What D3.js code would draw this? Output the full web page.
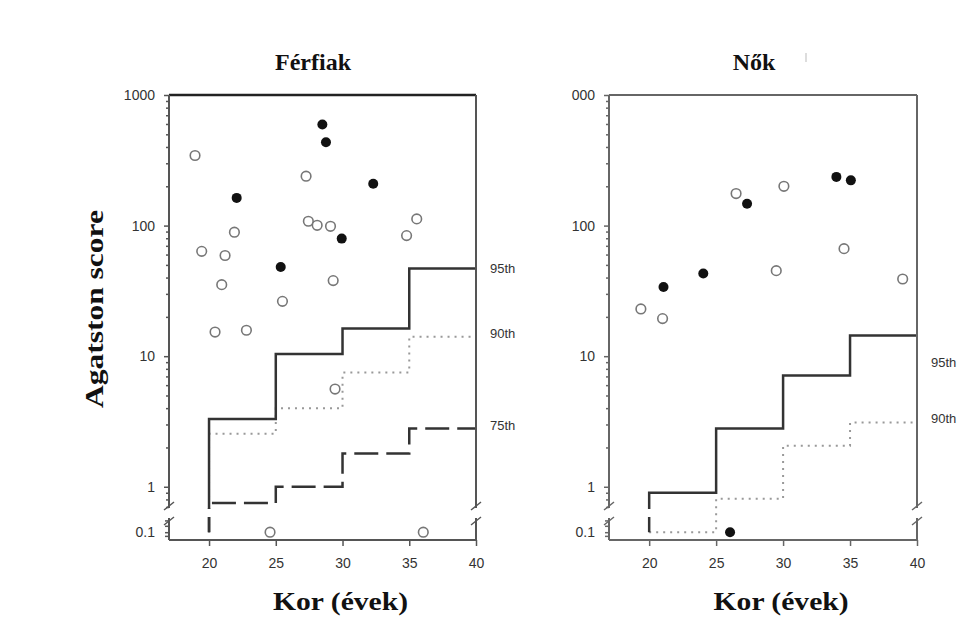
<!DOCTYPE html>
<html>
<head>
<meta charset="utf-8">
<script src="https://cdn.jsdelivr.net/npm/d3@7"></script>
<style>
  body { margin: 0; background: #fff; }
  svg { display: block; }
  .tick text { font-family: Arial, "Liberation Sans", sans-serif; font-size: 14px; fill: #333; }
</style>
</head>
<body>
<svg id="chart" width="969" height="625"></svg>
<script>
// Age groups / axis ticks
const ageTicks = [20, 25, 30, 35, 40];
const stepAges = [20, 25, 30, 35, 40];

// Férfiak (men) - open circles
const menOpenAge = [18.95, 19.45, 20.95, 20.45, 21.2, 21.9, 22.8, 25.5, 27.27, 27.44, 28.1, 29.1, 29.3, 29.44, 34.8, 35.56, 24.57, 36.05];
const menOpenScore = [344, 63.5, 35.3, 15.3, 59, 89, 15.8, 26.3, 239, 108, 100.5, 98.8, 37.9, 5.6, 83.8, 112.5, 0.1, 0.1];
// Férfiak - filled circles
const menFilledAge = [28.49, 28.76, 22.07, 32.3, 29.94, 25.37];
const menFilledScore = [594, 435, 163, 209, 79.5, 48.2];

// Nők (women) - open circles
const womenOpenAge = [19.38, 21.0, 26.49, 30.06, 29.49, 34.55, 38.93];
const womenOpenScore = [23, 19.4, 176, 200, 45.2, 66.6, 39];
// Nők - filled circles
const womenFilledAge = [21.07, 24.04, 27.31, 33.98, 35.06, 26.04];
const womenFilledScore = [33.9, 42.9, 147, 236, 222, 0.1];

// Percentile step lines (value per 5-year age group)
const menP95 = [3.3, 10.4, 16.3, 47];
const menP90 = [2.55, 4.0, 7.5, 14.1];
const menP75 = [0.75, 1.0, 1.8, 2.8];
const womenP95 = [0.9, 2.8, 7.1, 14.4];
const womenP90 = [0.1, 0.81, 2.06, 3.1];

// Percentile label texts and the score they sit beside
const menLabels = ["95th", "90th", "75th"];
const menLabelAt = [47, 15, 2.95];
const womenLabels = ["95th", "90th"];
const womenLabelAt = [8.9, 3.35];

// Y tick labels (decades)
const yDecades = [1, 10, 100, 1000];
const menYLabels = ["1", "10", "100", "1000"];
const womenYLabels = ["1", "10", "100", "000"];

const svg = d3.select("#chart");

const plotTop = 95, plotBottom = 540;
const breakTop = 508, breakBot = 518;

const panels = [
  {
    title: "Férfiak", titleX: 313, x0: 169, x1: 476,
    open: [menOpenAge, menOpenScore], filled: [menFilledAge, menFilledScore],
    lines: [
      { v: menP90, kind: "dot" },
      { v: menP75, kind: "dash" },
      { v: menP95, kind: "solid" }
    ],
    labels: menLabels, labelAt: menLabelAt, yLabels: menYLabels,
    frame: "#222", frameW: 2.5, axisCol: "#555"
  },
  {
    title: "Nők", titleX: 754, x0: 609, x1: 917,
    open: [womenOpenAge, womenOpenScore], filled: [womenFilledAge, womenFilledScore],
    lines: [
      { v: womenP90, kind: "dot" },
      { v: womenP95, kind: "solid" }
    ],
    labels: womenLabels, labelAt: womenLabelAt, yLabels: womenYLabels,
    frame: "#666", frameW: 2, axisCol: "#666"
  }
];

panels.forEach((p) => {
  const g = svg.append("g");

  // x scale (age)
  const x = d3.scaleLinear().domain([17, 40]).range([p.x0, p.x1]);

  // upper log segment and lower (0.1) segment of the broken axis
  const yUp = d3.scaleLog().domain([0.7, 1000]).range([507, plotTop]);
  const yLow = d3.scaleLog().domain([0.08, 0.15]).range([plotBottom, breakBot]);
  const y = (v) => (v >= 0.5 ? yUp(v) : yLow(v));

  // step lines
  const stepPath = (vals) => {
    const pts = [[stepAges[0], 0.1]];
    vals.forEach((v, i) => {
      pts.push([stepAges[i], v]);
      pts.push([stepAges[i + 1], v]);
    });
    return d3.line().x((d) => x(d[0])).y((d) => y(d[1]))(pts);
  };

  p.lines.forEach((l) => {
    const path = g.append("path")
      .attr("d", stepPath(l.v))
      .attr("fill", "none");
    if (l.kind === "solid") {
      path.attr("stroke", "#333").attr("stroke-width", 2.5);
    } else if (l.kind === "dot") {
      path.attr("stroke", "#999").attr("stroke-width", 2).attr("stroke-dasharray", "2,5");
    } else {
      path.attr("stroke", "#333").attr("stroke-width", 2.5).attr("stroke-dasharray", "24,8");
    }
  });

  // white gap of the axis break
  g.append("rect")
    .attr("x", p.x0 - 8).attr("y", breakTop + 1)
    .attr("width", 22).attr("height", breakBot - breakTop - 2)
    .attr("fill", "#fff");
  g.append("rect")
    .attr("x", x(20) - 4).attr("y", breakTop + 1)
    .attr("width", 8).attr("height", breakBot - breakTop - 2)
    .attr("fill", "#fff");
  g.append("rect")
    .attr("x", p.x1 - 8).attr("y", breakTop + 1)
    .attr("width", 16).attr("height", breakBot - breakTop - 2)
    .attr("fill", "#fff");

  // frame: top and right
  g.append("line")
    .attr("x1", p.x0).attr("x2", p.x1).attr("y1", plotTop).attr("y2", plotTop)
    .attr("stroke", p.frame).attr("stroke-width", p.frameW);
  g.append("line")
    .attr("x1", p.x1).attr("x2", p.x1).attr("y1", plotTop).attr("y2", breakTop)
    .attr("stroke", p.axisCol).attr("stroke-width", 2);
  g.append("line")
    .attr("x1", p.x1).attr("x2", p.x1).attr("y1", breakBot).attr("y2", plotBottom)
    .attr("stroke", p.axisCol).attr("stroke-width", 2);

  // left axis (upper)
  const fmt = (d) => {
    const i = yDecades.indexOf(d);
    return i >= 0 ? p.yLabels[i] : "";
  };
  const upAxis = g.append("g")
    .attr("transform", `translate(${p.x0},0)`)
    .call(d3.axisLeft(yUp).ticks(20).tickFormat(fmt).tickSize(4).tickPadding(10));
  upAxis.select(".domain").remove();
  upAxis.selectAll(".tick line")
    .attr("stroke", p.axisCol).attr("stroke-width", 1.5)
    .attr("x2", (d) => (yDecades.includes(d) ? -5 : -3));

  // left axis (lower segment)
  const lowAxis = g.append("g")
    .attr("transform", `translate(${p.x0},0)`)
    .call(d3.axisLeft(yLow).tickValues([0.09, 0.1, 0.12, 0.14]).tickFormat((d) => (d === 0.1 ? "0.1" : "")).tickSize(4).tickPadding(10));
  lowAxis.select(".domain").remove();
  lowAxis.selectAll(".tick line").attr("stroke", p.axisCol).attr("stroke-width", 1.5);

  g.append("line")
    .attr("x1", p.x0).attr("x2", p.x0).attr("y1", plotTop).attr("y2", breakTop)
    .attr("stroke", p.axisCol).attr("stroke-width", 2);
  g.append("line")
    .attr("x1", p.x0).attr("x2", p.x0).attr("y1", breakBot).attr("y2", plotBottom)
    .attr("stroke", p.axisCol).attr("stroke-width", 2);

  // break marks
  [p.x0, p.x1].forEach((bx) => {
    [breakTop - 2, breakBot + 3].forEach((by) => {
      g.append("line")
        .attr("x1", bx - 5).attr("y1", by + 4)
        .attr("x2", bx + 5).attr("y2", by - 4)
        .attr("stroke", p.axisCol).attr("stroke-width", 1.5);
    });
  });

  // bottom axis
  const xAxis = g.append("g")
    .attr("transform", `translate(0,${plotBottom})`)
    .call(d3.axisBottom(x).tickValues(ageTicks).tickSize(6).tickPadding(12));
  xAxis.select(".domain").remove();
  xAxis.selectAll(".tick line").attr("stroke", p.axisCol).attr("stroke-width", 1.5);
  g.append("line")
    .attr("x1", p.x0).attr("x2", p.x1).attr("y1", plotBottom).attr("y2", plotBottom)
    .attr("stroke", p.axisCol).attr("stroke-width", 2);

  // points
  const open = p.open[0].map((a, i) => ({ a, s: p.open[1][i] }));
  const filled = p.filled[0].map((a, i) => ({ a, s: p.filled[1][i] }));
  g.selectAll(".open").data(open).enter().append("circle")
    .attr("class", "open")
    .attr("cx", (d) => x(d.a)).attr("cy", (d) => y(d.s)).attr("r", 4.8)
    .attr("fill", "#fff").attr("stroke", "#777").attr("stroke-width", 1.6);
  g.selectAll(".filled").data(filled).enter().append("circle")
    .attr("class", "filled")
    .attr("cx", (d) => x(d.a)).attr("cy", (d) => y(d.s)).attr("r", 5)
    .attr("fill", "#111");

  // percentile labels
  p.labels.forEach((t, i) => {
    g.append("text")
      .attr("x", p.x1 + 14).attr("y", yUp(p.labelAt[i]))
      .attr("dy", "0.35em")
      .style("font-family", "Arial, 'Liberation Sans', sans-serif")
      .style("font-size", "13px").style("fill", "#333")
      .text(t);
  });

  // title
  g.append("text")
    .attr("x", p.titleX).attr("y", 70)
    .attr("text-anchor", "middle")
    .style("font-family", "'Liberation Serif', 'Times New Roman', serif")
    .style("font-weight", "bold").style("font-size", "24px").style("fill", "#111")
    .text(p.title);

  // x axis label
  g.append("text")
    .attr("x", (x(20) + x(40)) / 2 - 2).attr("y", 610)
    .attr("text-anchor", "middle")
    .attr("textLength", 135).attr("lengthAdjust", "spacingAndGlyphs")
    .style("font-family", "'Liberation Serif', 'Times New Roman', serif")
    .style("font-weight", "bold").style("font-size", "26px").style("fill", "#111")
    .text("Kor (évek)");
});

// y axis label (left panel only)
svg.append("text")
  .attr("transform", "translate(103,309) rotate(-90)")
  .attr("text-anchor", "middle")
  .attr("textLength", 198).attr("lengthAdjust", "spacingAndGlyphs")
  .style("font-family", "'Liberation Serif', 'Times New Roman', serif")
  .style("font-weight", "bold").style("font-size", "26px").style("fill", "#111")
  .text("Agatston score");

// small stray mark beside the right-hand title
svg.append("line")
  .attr("x1", 806).attr("x2", 806).attr("y1", 53).attr("y2", 62)
  .attr("stroke", "#bbb").attr("stroke-width", 1);
</script>
</body>
</html>
